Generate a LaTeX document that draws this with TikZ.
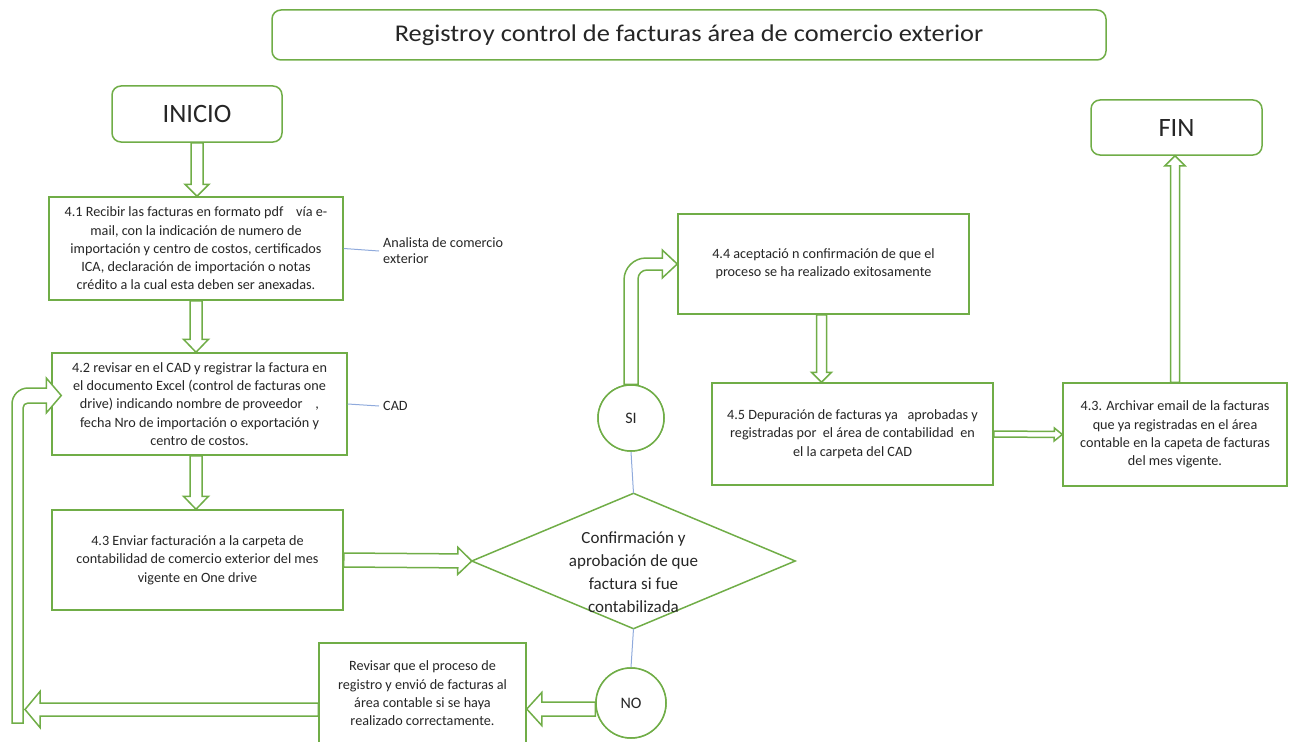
\documentclass[tikz,border=0pt]{standalone}
\usepackage{fontspec}
\setmainfont{Carlito}
\usetikzlibrary{calc}

\definecolor{verde}{HTML}{70AD47}
\definecolor{azul}{HTML}{8FAADC}

% flecha de bloque: desde, hasta, medio ancho, medio ancho punta, largo punta
\newcommand{\flecha}[5]{%
	\path (#1) coordinate (fa) (#2) coordinate (fb);
	\path ($(fb)!#5!(fa)$) coordinate (fc);
	\draw [bloque] ($(fa)!#3!90:(fb)$) -- ($(fc)!#3!90:(fb)$) -- ($(fc)!#4!90:(fb)$) -- (fb)
		-- ($(fc)!#4!-90:(fb)$) -- ($(fc)!#3!-90:(fb)$) -- ($(fa)!#3!-90:(fb)$) -- cycle;
}

\begin{document}
\begin{tikzpicture}[x = 1pt, y = -1pt,
	caja/.style = {draw = verde, line width = 1.5pt, fill = white, align = center, inner sep = 0pt,
		text = black!85, font = \fontsize{14.2}{18.3}\selectfont},
	redondeada/.style = {caja, rounded corners = 9pt},
	circulo/.style = {caja, circle, font = \fontsize{16}{18}\selectfont},
	nota/.style = {anchor = west, align = left, inner sep = 4pt, text = black!85, font = \fontsize{14.2}{16}\selectfont},
	bloque/.style = {draw = verde, line width = 1.5pt, fill = white, line join = miter},
	enlace/.style = {draw = azul, line width = 1pt}]

\useasboundingbox (0, 0) rectangle (1289, 741);

% Titulo

\node [redondeada, minimum width = 834, minimum height = 50, font = \fontsize{24}{26}\selectfont] (titulo) at (689, 35)
	{\scalebox{1.1}[1]{Registro\kern1pt y control de facturas área de comercio exterior}};

% Inicio y fin

\node [redondeada, minimum width = 170, minimum height = 56, font = \fontsize{26.5}{30}\selectfont] (inicio) at (197, 114) {INICIO};
\node [redondeada, minimum width = 171, minimum height = 55, font = \fontsize{26.5}{30}\selectfont] (fin) at (1176.5, 127.5) {FIN};

% Columna izquierda

\node [caja, minimum width = 294, minimum height = 103] (r41) at (196, 248.5)
	{4.1 Recibir las facturas en formato pdf~~~~vía e-\\mail, con la indicación de numero de\\importación y centro de costos, certificados\\ICA, declaración de importación o notas\\crédito a la cual esta deben ser anexadas.};
\node [caja, minimum width = 295, minimum height = 102] (r42) at (199.5, 404)
	{4.2 revisar en el CAD y registrar la factura en\\el documento Excel (control de facturas one\\drive) indicando nombre de proveedor~~~~,\\fecha Nro de importación o exportación y\\centro de costos.};
\node [caja, minimum width = 291, minimum height = 100] (r43) at (197.5, 560)
	{4.3 Enviar facturación a la carpeta de\\contabilidad de comercio exterior del mes\\vigente en One drive};

\node [nota] (analista) at (379, 251) {Analista de comercio\\exterior};
\node [nota] (cad) at (379, 406) {CAD};

\draw [enlace] (r41.east) -- (analista.west);
\draw [enlace] (r42.east) -- (cad.west);

% Decision

\node [minimum width = 323, minimum height = 135, inner sep = 0pt] (decision) at (633.5, 561) {};
\draw [caja, fill = none] (decision.west) -- (decision.north) -- (decision.east) -- (decision.south) -- cycle;
\node [align = center, text = black!85, font = \fontsize{17}{23}\selectfont] (pregunta) at ($(decision) + (0, 11)$)
	{Confirmación y\\aprobación de que\\factura si fue\\contabilizada};

\node [circulo, minimum size = 66] (si) at (631, 418) {SI};
\node [circulo, minimum size = 70] (no) at (631, 703) {NO};

\draw [enlace] (decision.north) -- (si.south);
\draw [enlace] (decision.south) -- (no.north);

\node [caja, minimum width = 207, minimum height = 101] (revision) at (422.5, 693.5)
	{Revisar que el proceso de\\registro y envió de facturas al\\área contable si se haya\\realizado correctamente.};

% Columna derecha

\node [caja, minimum width = 291, minimum height = 100] (a44) at (823.5, 264)
	{4.4 aceptació n confirmación de que el\\proceso se ha realizado exitosamente};
\node [caja, minimum width = 281, minimum height = 102] (a45) at (852.5, 434)
	{4.5 Depuración de facturas ya~~~aprobadas y\\registradas por~~el área de contabilidad~~en\\el la carpeta del CAD};
\node [caja, minimum width = 224, minimum height = 103] (archivo) at (1175, 434.5)
	{4.3. Archivar email de la facturas\\que ya registradas en el área\\contable en la capeta de facturas\\del mes vigente.};

% Flechas rectas

\flecha{inicio.south}{inicio.south |- r41.north}{6pt}{12pt}{12pt}
\flecha{r41.south}{r41.south |- r42.north}{6pt}{12.5pt}{13pt}
\flecha{r42.south -| r41.south}{r41.south |- r43.north}{6pt}{12.5pt}{13pt}
\flecha{r43.east}{decision.west}{7pt}{13.5pt}{14pt}
\flecha{[xshift = -2pt]a44.south}{[xshift = -2pt]a44.south |- a45.north}{5pt}{10pt}{10pt}
\flecha{a45.east}{archivo.west}{3pt}{6.5pt}{8pt}
\flecha{archivo.north}{archivo.north |- fin.south}{4.5pt}{10pt}{10pt}
\flecha{$(no.west) + (0, 6)$}{$(no.west -| revision.east) + (0, 6)$}{7pt}{16.5pt}{15pt}

% Flecha curva del SI

\draw [bloque] let \p1 = (si.north), \p2 = (a44.west) in
	(\x1-7pt, \y1) -- (\x1-7pt, \y2-16pt) arc [start angle = 180, end angle = 90, radius = 22pt]
	-- (\x2-15pt, \y2+6pt) -- (\x2-15pt, \y2+14pt) -- (\p2) -- (\x2-15pt, \y2-14pt) -- (\x2-15pt, \y2-6pt)
	-- (\x1+16pt, \y2-6pt) arc [start angle = 90, end angle = 180, radius = 9pt] -- (\x1+7pt, \y1) -- cycle;

% Retorno hacia 4.2

\coordinate (vuelta) at (25, 709.5);
\coordinate (pie) at (17.5, 723);
\coordinate (entrada) at ($(r42.west) + (10, -8.5)$);

\flecha{revision.west |- vuelta}{vuelta}{6.5pt}{18pt}{15pt}

\draw [bloque] let \p1 = (pie), \p2 = (entrada) in
	(\x1-5.5pt, \y1) -- (\x1-5.5pt, \y2-8.5pt) arc [start angle = 180, end angle = 90, radius = 16pt]
	-- (\x2-15pt, \y2+7.5pt) -- (\x2-15pt, \y2+17.5pt) -- (\p2) -- (\x2-15pt, \y2-17.5pt) -- (\x2-15pt, \y2-7.5pt)
	-- (\x1+10.5pt, \y2-7.5pt) arc [start angle = 90, end angle = 180, radius = 5pt] -- (\x1+5.5pt, \y1) -- cycle;

% Circulos encima de las flechas

\node [circulo, minimum size = 66] at (si) {SI};
\node [circulo, minimum size = 70] at (no) {NO};

\end{tikzpicture}
\end{document}
